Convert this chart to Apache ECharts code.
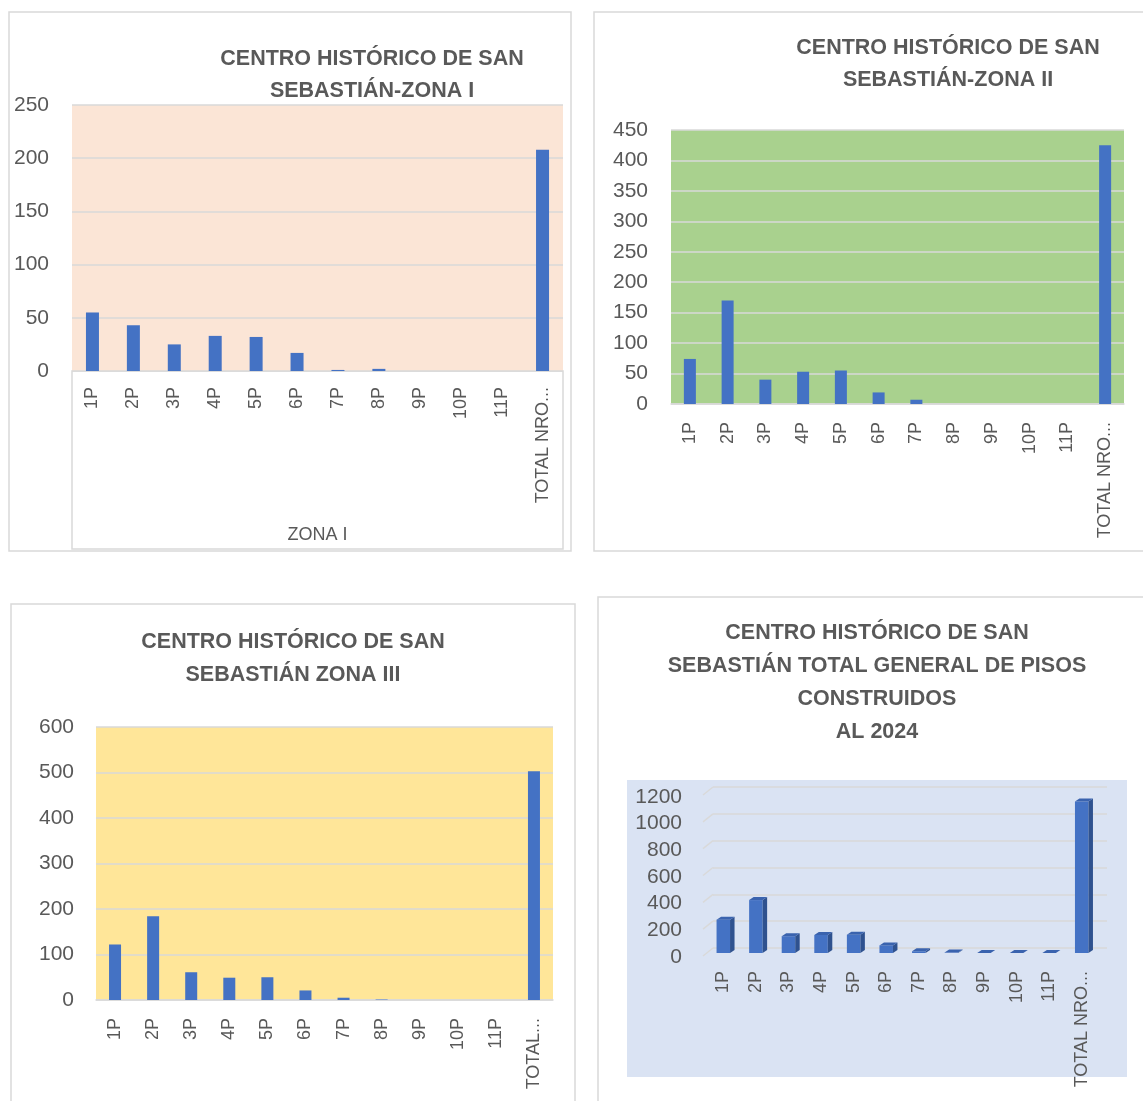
<!DOCTYPE html>
<html>
<head>
<meta charset="utf-8">
<script src="https://cdn.jsdelivr.net/npm/echarts@6/dist/echarts.min.js"></script>
<style>html,body{margin:0;padding:0;background:#fff;}#c{width:1143px;height:1101px;}</style>
</head>
<body>
<div id="c"></div>
<script>
// ---- Data ----
const categories = ['1P','2P','3P','4P','5P','6P','7P','8P','9P','10P','11P','TOTAL NRO...'];
const categoriesZ3 = ['1P','2P','3P','4P','5P','6P','7P','8P','9P','10P','11P','TOTAL...'];
const zona1 = [55, 43, 25, 33, 32, 17, 1, 2, 0, 0, 0, 208];
const zona2 = [74, 170, 40, 53, 55, 19, 7, 0, 0, 0, 0, 425];
const zona3 = [122, 184, 61, 49, 50, 21, 5, 1, 0, 0, 0, 503];
const totalGeneral = [250, 397, 126, 135, 137, 57, 13, 3, 0, 0, 0, 1136];
const ticksZ4 = [0, 200, 400, 600, 800, 1000, 1200];

const titles = [
  'CENTRO HISTÓRICO DE SAN\nSEBASTIÁN-ZONA I',
  'CENTRO HISTÓRICO DE SAN\nSEBASTIÁN-ZONA II',
  'CENTRO HISTÓRICO DE SAN\nSEBASTIÁN ZONA III',
  'CENTRO HISTÓRICO DE SAN\nSEBASTIÁN TOTAL GENERAL DE PISOS\nCONSTRUIDOS\nAL 2024'
];

const FONT = '"Liberation Sans", Arial, sans-serif';
const TXT = '#595959';
const GRIDC = '#D9D9D9';
const BAR = '#4472C4';

const chart = echarts.init(document.getElementById('c'), null, {renderer: 'canvas'});

const plain = v => String(v);

function yAx(gi, max, interval, margin, extra) {
  return Object.assign({
    type: 'value', gridIndex: gi, min: 0, max: max, interval: interval,
    axisLine: {show: false}, axisTick: {show: false},
    axisLabel: {color: TXT, fontSize: 21, fontFamily: FONT, margin: margin, formatter: plain},
    splitLine: {show: true, lineStyle: {color: GRIDC, width: 1.5}}
  }, extra || {});
}
function xAx(gi, cats, margin, lineShow, extra) {
  return Object.assign({
    type: 'category', gridIndex: gi, data: cats,
    axisTick: {show: false},
    axisLine: {show: lineShow, lineStyle: {color: GRIDC, width: 1.5}},
    axisLabel: {color: TXT, fontSize: 18, fontFamily: FONT, rotate: 90, margin: margin, interval: 0}
  }, extra || {});
}

const bar3d = function (params, api) {
  const i = api.value(0), v = api.value(1);
  const top = api.coord([i, v]);
  const bot = api.coord([i, 0]);
  const w = 13.5, dx = 4.5, dy = 3;
  const x0 = top[0] - w / 2, x1 = top[0] + w / 2;
  return {
    type: 'group',
    children: [
      {type: 'rect', shape: {x: x0, y: top[1], width: w, height: bot[1] - top[1]}, style: {fill: '#4472C4'}},
      {type: 'polygon', shape: {points: [[x1, top[1]], [x1 + dx, top[1] - dy], [x1 + dx, bot[1] - dy], [x1, bot[1]]]}, style: {fill: '#2F528F'}},
      {type: 'polygon', shape: {points: [[x0, top[1]], [x0 + dx, top[1] - dy], [x1 + dx, top[1] - dy], [x1, top[1]]]}, style: {fill: '#3A63AE'}}
    ]
  };
};

const slantLines = function (params, api) {
  const v = api.value(1);
  const p = api.coord([0, v]);
  const half = api.size([1, 0])[0] / 2;
  const x = p[0] - half;
  return {type: 'line', shape: {x1: x - 10, y1: p[1] + 8, x2: x, y2: p[1]}, style: {stroke: GRIDC, lineWidth: 1.5}};
};

const TF = 'bold 21.5px ' + FONT;

const option = {
  animation: false,
  backgroundColor: '#ffffff',
  graphic: [
    {type: 'rect', z: -10, shape: {x: 9, y: 12, width: 562, height: 539}, style: {fill: '#fff', stroke: GRIDC, lineWidth: 1.5}},
    {type: 'rect', z: -10, shape: {x: 594, y: 12, width: 570, height: 539}, style: {fill: '#fff', stroke: GRIDC, lineWidth: 1.5}},
    {type: 'rect', z: -10, shape: {x: 11, y: 604, width: 564, height: 520}, style: {fill: '#fff', stroke: GRIDC, lineWidth: 1.5}},
    {type: 'rect', z: -10, shape: {x: 598, y: 597, width: 570, height: 520}, style: {fill: '#fff', stroke: GRIDC, lineWidth: 1.5}},
    {type: 'rect', z: -9, shape: {x: 627, y: 780, width: 500, height: 297}, style: {fill: '#DAE3F3'}},
    {type: 'rect', z: -5, shape: {x: 72, y: 371, width: 491, height: 178}, style: {fill: 'none', stroke: GRIDC, lineWidth: 1.5}},
    {type: 'text', x: 372, y: 75, style: {text: titles[0], align: 'center', verticalAlign: 'middle', lineHeight: 32, font: TF, fill: TXT}},
    {type: 'text', x: 948, y: 64, style: {text: titles[1], align: 'center', verticalAlign: 'middle', lineHeight: 32, font: TF, fill: TXT}},
    {type: 'text', x: 293, y: 659, style: {text: titles[2], align: 'center', verticalAlign: 'middle', lineHeight: 33, font: TF, fill: TXT}},
    {type: 'text', x: 877, y: 683, style: {text: titles[3], align: 'center', verticalAlign: 'middle', lineHeight: 33, font: TF, fill: TXT}}
  ],
  grid: [
    {left: 72, top: 105, width: 491, height: 266, show: true, backgroundColor: '#FBE5D6', borderWidth: 0},
    {left: 671, top: 130, width: 453, height: 274, show: true, backgroundColor: '#A9D18E', borderWidth: 0},
    {left: 96, top: 727, width: 457, height: 273, show: true, backgroundColor: '#FFE699', borderWidth: 0},
    {left: 713, top: 787, width: 394, height: 161, show: false},
    {left: 707, top: 793, width: 391, height: 160, show: false},
    {left: 707, top: 797, width: 391, height: 160, show: false}
  ],
  xAxis: [
    xAx(0, categories, 16, false, {name: 'ZONA I', nameLocation: 'middle', nameGap: 155, nameTextStyle: {color: TXT, fontSize: 18, fontFamily: FONT}}),
    xAx(1, categories, 18, true),
    xAx(2, categoriesZ3, 18, true),
    {type: 'category', gridIndex: 3, data: categories, show: false},
    xAx(4, categories, 18, false),
    {type: 'category', gridIndex: 5, data: categories, show: false}
  ],
  yAxis: [
    yAx(0, 250, 50, 23),
    yAx(1, 450, 50, 23),
    yAx(2, 600, 100, 22),
    yAx(3, 1200, 200, 10, {axisLabel: {show: false}}),
    yAx(4, 1200, 200, 25, {splitLine: {show: false}, axisLabel: {show: false}}),
    yAx(5, 1200, 200, 25, {splitLine: {show: false}})
  ],
  series: [
    {type: 'bar', xAxisIndex: 0, yAxisIndex: 0, data: zona1, barWidth: 13, itemStyle: {color: BAR}},
    {type: 'bar', xAxisIndex: 1, yAxisIndex: 1, data: zona2, barWidth: 12, itemStyle: {color: BAR}},
    {type: 'bar', xAxisIndex: 2, yAxisIndex: 2, data: zona3, barWidth: 12, itemStyle: {color: BAR}},
    {type: 'custom', xAxisIndex: 3, yAxisIndex: 3, renderItem: slantLines, data: ticksZ4.map(t => [0, t]), silent: true},
    {type: 'custom', xAxisIndex: 4, yAxisIndex: 4, renderItem: bar3d, data: totalGeneral.map((v, i) => [i, v])}
  ]
};
chart.setOption(option);
</script>
</body>
</html>
